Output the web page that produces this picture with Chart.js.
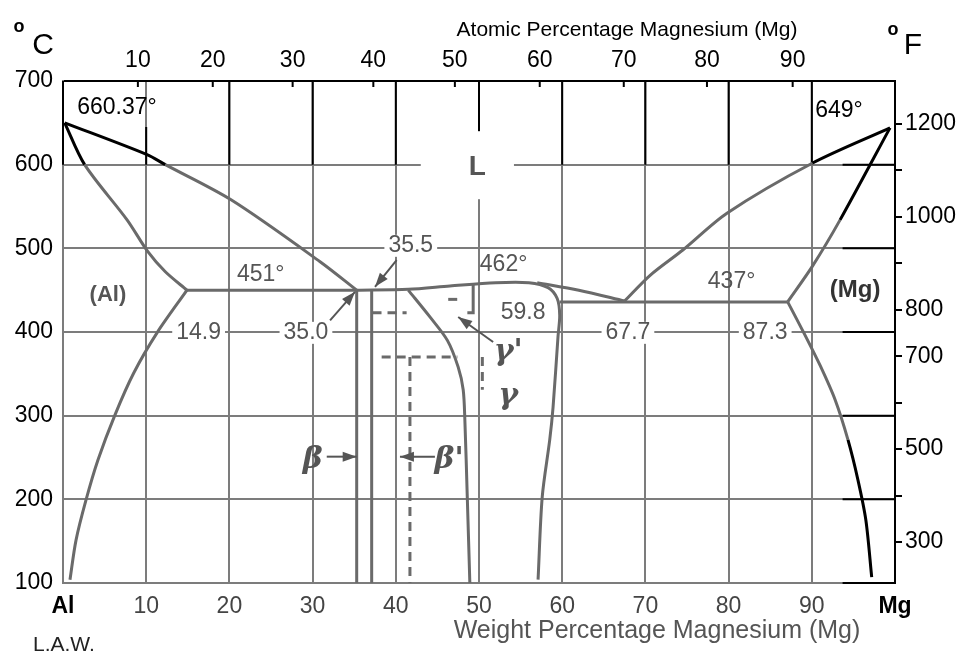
<!DOCTYPE html>
<html>
<head>
<meta charset="utf-8">
<title>Al-Mg phase diagram</title>
<script src="https://cdn.jsdelivr.net/npm/chart.js@4.4.0/dist/chart.umd.min.js"></script>
<style>
  body { margin: 0; background: #fff; }
  #wrap { width: 965px; height: 655px; }
</style>
</head>
<body>
<div id="wrap"><canvas id="myChart" width="965" height="655"></canvas></div>
<script>
// tick labels
const atomicLabels = [10, 20, 30, 40, 50, 60, 70, 80, 90];
const atomicAtWeight = [9.0, 18.0, 27.6, 37.3, 47.1, 57.3, 67.4, 77.4, 87.7];   // where they sit on the wt% scale
const fahrenheitTicks = [300, 400, 500, 600, 700, 800, 900, 1000, 1100, 1200];
const fahrenheitShown = [300, 500, 700, 800, 1000, 1200];

// phase boundaries, [wt% Mg, degC]
const alLiquidus = [[0.2, 650], [10.1, 612], [12.3, 600], [20.2, 558], [30.9, 484], [35.3, 450]];
const alSolidus = [[0.2, 650], [2.6, 600], [7.7, 534], [10.2, 496], [12.3, 472], [14.9, 450]];
const alSolvus = [[14.9, 450], [11.3, 399], [8.5, 351], [6.25, 301], [4.2, 247], [2.76, 199], [1.56, 151], [0.84, 104]];
const alEutectic = [[14.9, 450], [35.3, 450]];
const betaLeft = [[35.3, 450], [35.3, 100]];
const betaRight = [[37.1, 450], [37.1, 100]];
const gammaDome = [[35.3, 450], [41.5, 451], [46.5, 455], [52, 459], [56, 459], [58.3, 453], [59.4, 440],
                   [59.7, 420], [59.5, 395], [58.9, 310], [58.5, 271], [57.6, 203], [57.1, 104]];
const gammaLeft = [[41.5, 450], [44.1, 418], [46.2, 390], [47.5, 358], [48.1, 331], [48.3, 295], [48.6, 200], [48.9, 100]];
const gammaLiquidus = [[57, 459], [62, 450], [67.5, 437]];
const mgEutectic = [[59.7, 436], [87.1, 436]];
const mgLiquidus = [[67.5, 437], [70.6, 468], [74.5, 498], [79.8, 542], [90.1, 602], [99.4, 644]];
const mgSolidus = [[87.1, 436], [90.1, 479], [93.4, 534], [99.4, 644]];
const mgSolvus = [[87.1, 436], [89.2, 396], [91.0, 360], [92.8, 319], [94.35, 271], [95.55, 223], [96.5, 175], [97.2, 107]];
const gammaPrimeHook = [[48.6, 423], [49.3, 423], [49.3, 457]];
// dashed (ordered phases)
const betaPrimeTop = [[37.2, 423], [41.3, 423]];
const betaPrimeRoof = [[38.3, 370], [47.4, 370]];
const betaPrimeSide = [[41.7, 370], [41.7, 100]];
const gammaPrimeTop = [[46.3, 439], [47.7, 439]];
const gammaPrimeSide = [[50.4, 370], [50.4, 331]];

const GREY = '#6a6a6a';
const GRID = '#7c7c7c';
const FONT = '"Liberation Sans", Arial, sans-serif';
const GREEK = '"DejaVu Serif", "Liberation Serif", serif';

function pts(arr) { return arr.map(p => ({x: p[0], y: p[1]})); }

// scan is black above 600 degC and near the Mg edge
function segColor(c) {
  const mx = (c.p0.parsed.x + c.p1.parsed.x) / 2;
  const my = (c.p0.parsed.y + c.p1.parsed.y) / 2;
  return (my > 600 || mx > 93.7) ? '#000' : GREY;
}

function line(arr, curved, dashed) {
  return {
    data: pts(arr),
    showLine: true,
    borderColor: GREY,
    borderWidth: 3,
    pointRadius: 0,
    tension: curved ? 0.3 : 0,
    borderDash: dashed ? [9, 6] : [],
    segment: { borderColor: segColor }
  };
}

const datasets = [
  line(alLiquidus, true), line(alSolidus, true), line(alSolvus, true), line(alEutectic),
  line(betaLeft), line(betaRight), line(gammaDome, true), line(gammaLeft, true),
  line(gammaLiquidus, true), line(mgEutectic), line(mgLiquidus, true), line(mgSolidus, true),
  line(mgSolvus, true), line(gammaPrimeHook),
  line(betaPrimeTop, false, true), line(betaPrimeRoof, false, true), line(betaPrimeSide, false, true),
  line(gammaPrimeTop, false, true), line(gammaPrimeSide, false, true)
];

// text inside the plot, in data coordinates
const notes = [
  {t: '660.37°', x: 1.7, y: 668, align: 'left', color: '#000'},
  {t: '649°', x: 90.4, y: 665, align: 'left', color: '#000'},
  {t: '(Al)', x: 5.4, y: 444, bold: true, size: 22},
  {t: '451°', x: 20.9, y: 469, align: 'left'},
  {t: '14.9', x: 16.3, y: 399, box: true},
  {t: '35.0', x: 29.2, y: 399, box: true},
  {t: '35.5', x: 41.8, y: 503, box: true},
  {t: '462°', x: 50.1, y: 480, align: 'left'},
  {t: '59.8', x: 55.3, y: 423},
  {t: '67.7', x: 67.9, y: 399, box: true},
  {t: '87.3', x: 84.4, y: 399, box: true},
  {t: '437°', x: 77.5, y: 460, align: 'left'},
  {t: '(Mg)', x: 95.2, y: 450, bold: true, size: 24, color: '#333'},
  {t: 'L', x: 49.8, y: 597, bold: true, size: 28}
];
const greekNotes = [
  {t: 'γ\'', x: 53.5, y: 376},
  {t: 'γ', x: 53.5, y: 323},
  {t: 'β', x: 30.0, y: 247},
  {t: 'β\'', x: 46.4, y: 247}
];
const arrows = [
  [[32.1, 414], [35.1, 448]],
  [[40.1, 486], [37.5, 454]],
  [[51.7, 388], [47.5, 418]],
  [[31.7, 251], [35.3, 251]],
  [[44.7, 251], [40.5, 251]]
];

const overlay = {
  id: 'overlay',
  beforeDatasetsDraw(chart) {
    const c = chart.ctx, xs = chart.scales.x, ys = chart.scales.y, a = chart.chartArea;
    c.save();
    // black parts of the scanned grid
    c.strokeStyle = '#000';
    c.lineWidth = 2;
    const y600 = ys.getPixelForValue(600);
    c.beginPath();
    for (let v = 20; v <= 90; v += 10) {
      const px = xs.getPixelForValue(v);
      c.moveTo(px, a.top); c.lineTo(px, y600);
    }
    const p10 = xs.getPixelForValue(10);
    c.moveTo(p10, ys.getPixelForValue(645)); c.lineTo(p10, y600);
    c.moveTo(a.left, a.top); c.lineTo(a.left, y600);
    const xEdge = xs.getPixelForValue(93.7);
    for (let v = 200; v <= 600; v += 100) {
      const py = ys.getPixelForValue(v);
      c.moveTo(xEdge, py); c.lineTo(a.right, py);
    }
    c.moveTo(xEdge, a.bottom); c.lineTo(a.right, a.bottom);
    c.stroke();
    // white patches where labels break the grid
    c.fillStyle = '#fff';
    c.font = '23px ' + FONT;
    notes.filter(n => n.box).forEach(n => {
      const w = c.measureText(n.t).width;
      const px = xs.getPixelForValue(n.x), py = ys.getPixelForValue(n.y);
      c.fillRect(px - w / 2 - 4, py - 11, w + 8, 22);
    });
    c.fillRect(xs.getPixelForValue(43), ys.getPixelForValue(640), xs.getPixelForValue(54.2) - xs.getPixelForValue(43), 68);
    c.restore();
  },
  afterDatasetsDraw(chart) {
    const c = chart.ctx, xs = chart.scales.x, ys = chart.scales.y, a = chart.chartArea;
    c.save();
    c.textBaseline = 'middle';
    notes.forEach(n => {
      c.font = (n.bold ? 'bold ' : '') + (n.size || 23) + 'px ' + FONT;
      c.fillStyle = n.color || '#555';
      c.textAlign = n.align || 'center';
      c.fillText(n.t, xs.getPixelForValue(n.x), ys.getPixelForValue(n.y));
    });
    c.font = 'italic bold 30px ' + GREEK;
    c.fillStyle = '#555';
    c.textAlign = 'center';
    greekNotes.forEach(n => c.fillText(n.t, xs.getPixelForValue(n.x), ys.getPixelForValue(n.y)));
    // arrows
    c.strokeStyle = '#555';
    c.fillStyle = '#555';
    c.lineWidth = 2;
    arrows.forEach(ar => {
      const x0 = xs.getPixelForValue(ar[0][0]), y0 = ys.getPixelForValue(ar[0][1]);
      const x1 = xs.getPixelForValue(ar[1][0]), y1 = ys.getPixelForValue(ar[1][1]);
      const ang = Math.atan2(y1 - y0, x1 - x0);
      c.beginPath(); c.moveTo(x0, y0); c.lineTo(x1, y1); c.stroke();
      c.beginPath();
      c.moveTo(x1, y1);
      c.lineTo(x1 - 14 * Math.cos(ang) + 5 * Math.sin(ang), y1 - 14 * Math.sin(ang) - 5 * Math.cos(ang));
      c.lineTo(x1 - 14 * Math.cos(ang) - 5 * Math.sin(ang), y1 - 14 * Math.sin(ang) + 5 * Math.cos(ang));
      c.closePath(); c.fill();
    });
    // inner ticks of the atomic % scale
    c.strokeStyle = '#000';
    c.beginPath();
    atomicAtWeight.forEach(v => {
      const px = xs.getPixelForValue(v);
      c.moveTo(px, a.top); c.lineTo(px, a.top + 6);
    });
    c.stroke();
    // axis titles and corner marks
    c.fillStyle = '#000';
    c.textAlign = 'center';
    c.font = '21px ' + FONT;
    c.fillText('Atomic Percentage Magnesium (Mg)', 627, 30);
    c.font = 'bold 18px ' + FONT;
    c.fillText('o', 19, 27);
    c.fillText('o', 893, 30);
    c.font = '30px ' + FONT;
    c.fillText('C', 43, 46);
    c.fillText('F', 913, 46);
    c.fillStyle = '#555';
    c.font = '25px ' + FONT;
    c.fillText('Weight Percentage Magnesium (Mg)', 657, 631);
    c.fillStyle = '#222';
    c.textAlign = 'left';
    c.font = '21px ' + FONT;
    c.fillText('L.A.W.', 33, 645);
    c.restore();
  }
};

const ctx = document.getElementById('myChart');
const myChart = new Chart(ctx, {
  type: 'scatter',
  data: { datasets: datasets },
  options: {
    responsive: false,
    animation: false,
    layout: { padding: 0 },
    plugins: { legend: { display: false }, tooltip: { enabled: false } },
    scales: {
      x: {
        type: 'linear', position: 'bottom', min: 0, max: 100,
        afterFit: s => { s.height = 72; },
        ticks: {
          stepSize: 10, padding: 10,
          callback: v => v === 0 ? 'Al' : (v === 100 ? 'Mg' : v),
          color: c => (c.tick && (c.tick.value === 0 || c.tick.value === 100)) ? '#000' : '#444',
          font: c => ({family: FONT, size: 23,
            weight: (c.tick && (c.tick.value === 0 || c.tick.value === 100)) ? 'bold' : 'normal'})
        },
        grid: {
          color: c => (c.tick && (c.tick.value === 0 || c.tick.value === 100)) ? 'rgba(0,0,0,0)' : GRID,
          lineWidth: 2, drawTicks: false
        },
        border: { color: GRID, width: 2 }
      },
      xTop: {
        type: 'linear', position: 'top', min: 0, max: 100,
        afterFit: s => { s.height = 81; },
        afterBuildTicks: s => { s.ticks = atomicAtWeight.map(v => ({value: v})); },
        ticks: {
          padding: 7, color: '#000', font: {family: FONT, size: 23},
          callback: (v, i) => atomicLabels[i]
        },
        grid: { drawOnChartArea: false, drawTicks: false },
        border: { color: '#000', width: 2 }
      },
      y: {
        type: 'linear', position: 'left', min: 100, max: 700,
        afterFit: s => { s.width = 63; },
        ticks: { stepSize: 100, padding: 10, color: '#000', font: {family: FONT, size: 23} },
        grid: {
          color: c => (c.tick && (c.tick.value === 100 || c.tick.value === 700)) ? 'rgba(0,0,0,0)' : GRID,
          lineWidth: 2, drawTicks: false
        },
        border: { color: GRID, width: 2 }
      },
      yF: {
        type: 'linear', position: 'right', min: 212, max: 1292,
        afterFit: s => { s.width = 70; },
        afterBuildTicks: s => { s.ticks = fahrenheitTicks.map(v => ({value: v})); },
        ticks: {
          padding: 3, color: '#000', font: {family: FONT, size: 23},
          callback: v => fahrenheitShown.includes(v) ? String(v) : ''
        },
        grid: { drawOnChartArea: false, drawTicks: true, tickLength: 7, color: '#000', lineWidth: 2 },
        border: { color: '#000', width: 2 }
      }
    }
  },
  plugins: [overlay]
});
</script>
</body>
</html>
